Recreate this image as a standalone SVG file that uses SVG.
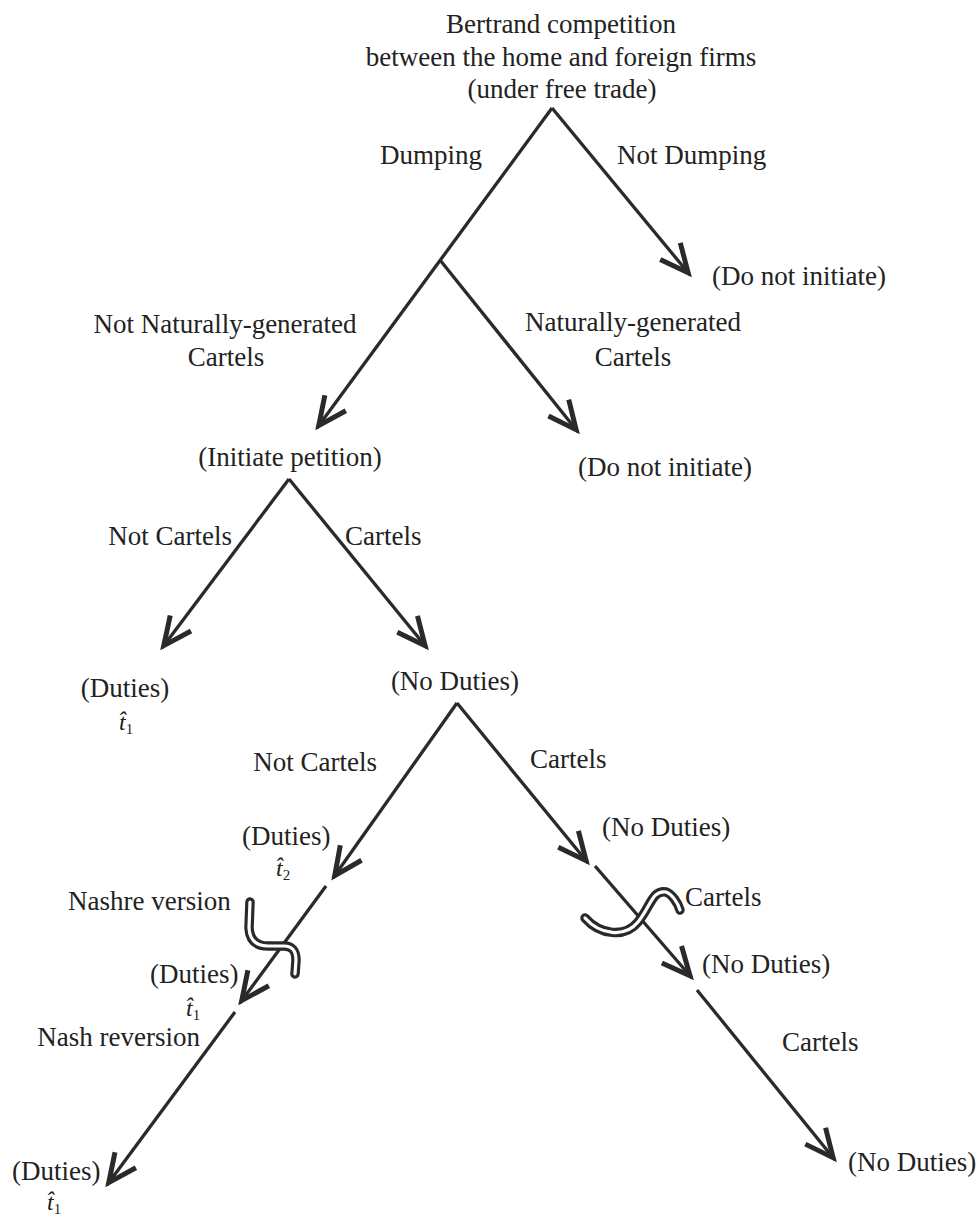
<svg xmlns="http://www.w3.org/2000/svg" width="980" height="1220" viewBox="0 0 980 1220">
<style>
.t{font-family:"Liberation Serif","Times New Roman",serif;font-size:27px;fill:#222}
.c{text-anchor:middle}
.e{text-anchor:end}
.m{font-family:"Liberation Serif","Times New Roman",serif;font-size:24px;fill:#222}
.sub{font-size:15px}
.ln{fill:none;stroke:#2a2a2a;stroke-width:3.3;stroke-linecap:butt}
.sqo{fill:none;stroke:#2a2a2a;stroke-width:9.5;stroke-linecap:round}
.sqi{fill:none;stroke:#fff;stroke-width:3.2;stroke-linecap:round}
</style>
<defs>
<marker id="ah" markerUnits="userSpaceOnUse" markerWidth="50" markerHeight="50" viewBox="-40 -25 50 50" refX="0" refY="0" orient="auto" overflow="visible">
<path d="M-31,-13 L-3,0 L-31,13" fill="none" stroke="#2a2a2a" stroke-width="5"/>
</marker>
</defs>
<rect width="980" height="1220" fill="#fff"/>
<g id="connectors">
<path class="ln" d="M552,108 L690,275" marker-end="url(#ah)"/>
<path class="ln" d="M552,108 L317,428" marker-end="url(#ah)"/>
<path class="ln" d="M440,260 L578,432" marker-end="url(#ah)"/>
<path class="ln" d="M289,479 L162,648" marker-end="url(#ah)"/>
<path class="ln" d="M289,479 L427,648" marker-end="url(#ah)"/>
<path class="ln" d="M457,703 L333,878" marker-end="url(#ah)"/>
<path class="ln" d="M457,703 L588,863" marker-end="url(#ah)"/>
<path class="ln" d="M326,886 L240,1003" marker-end="url(#ah)"/>
<path class="ln" d="M235,1012 L107,1185" marker-end="url(#ah)"/>
<path class="ln" d="M595,866 L692,978" marker-end="url(#ah)"/>
<path class="ln" d="M697,990 L835,1160" marker-end="url(#ah)"/>
</g>
<g id="squiggles">
<path class="sqo" d="M250,902 L249,928 Q250,946 268,946 L284,946 Q296,946 296,960 L295,974"/>
<path class="sqi" d="M250,902 L249,928 Q250,946 268,946 L284,946 Q296,946 296,960 L295,974"/>
<path class="sqo" d="M585,918 C600,935 625,938 638,922 S652,890 666,892 C672,894 678,903 680,910"/>
<path class="sqi" d="M585,918 C600,935 625,938 638,922 S652,890 666,892 C672,894 678,903 680,910"/>
</g>
<g id="root">
<text class="t c" x="561" y="33">Bertrand competition</text>
<text class="t c" x="561" y="66">between the home and foreign firms</text>
<text class="t c" x="562" y="98">(under free trade)</text>
</g>
<g id="labels-level1">
<text class="t e" x="482" y="164">Dumping</text>
<text class="t" x="617" y="164">Not Dumping</text>
</g>
<g id="node-do-not-initiate-1">
<text class="t" x="712" y="285">(Do not initiate)</text>
</g>
<g id="labels-level2">
<text class="t c" x="225" y="333">Not Naturally-generated</text>
<text class="t c" x="226" y="366">Cartels</text>
<text class="t c" x="633" y="331">Naturally-generated</text>
<text class="t c" x="633" y="366">Cartels</text>
</g>
<g id="node-do-not-initiate-2">
<text class="t" x="578" y="476">(Do not initiate)</text>
</g>
<g id="node-initiate-petition">
<text class="t c" x="290" y="466">(Initiate petition)</text>
</g>
<g id="labels-level3">
<text class="t e" x="232" y="545">Not Cartels</text>
<text class="t" x="345" y="545">Cartels</text>
</g>
<g id="node-duties-1">
<text class="t c" x="125" y="697">(Duties)</text>
<text class="m" x="119" y="730"><tspan font-style="italic">t̂</tspan><tspan class="sub" dy="4">1</tspan></text>
</g>
<g id="node-no-duties-1">
<text class="t c" x="455" y="690">(No Duties)</text>
</g>
<g id="labels-level4">
<text class="t e" x="377" y="771">Not Cartels</text>
<text class="t" x="530" y="768">Cartels</text>
</g>
<g id="node-duties-2">
<text class="t" x="242" y="845">(Duties)</text>
<text class="m" x="276" y="876"><tspan font-style="italic">t̂</tspan><tspan class="sub" dy="4">2</tspan></text>
</g>
<g id="node-no-duties-2">
<text class="t" x="602" y="836">(No Duties)</text>
</g>
<g id="labels-level5">
<text class="t" x="68" y="910">Nashre version</text>
<text class="t" x="685" y="906">Cartels</text>
</g>
<g id="node-duties-3">
<text class="t" x="150" y="983">(Duties)</text>
<text class="m" x="186" y="1016"><tspan font-style="italic">t̂</tspan><tspan class="sub" dy="4">1</tspan></text>
</g>
<g id="node-no-duties-3">
<text class="t" x="702" y="973">(No Duties)</text>
</g>
<g id="labels-level6">
<text class="t e" x="200" y="1046">Nash reversion</text>
<text class="t" x="782" y="1051">Cartels</text>
</g>
<g id="node-duties-4">
<text class="t" x="12" y="1180">(Duties)</text>
<text class="m" x="47" y="1210"><tspan font-style="italic">t̂</tspan><tspan class="sub" dy="4">1</tspan></text>
</g>
<g id="node-no-duties-4">
<text class="t" x="848" y="1171">(No Duties)</text>
</g>
</svg>
